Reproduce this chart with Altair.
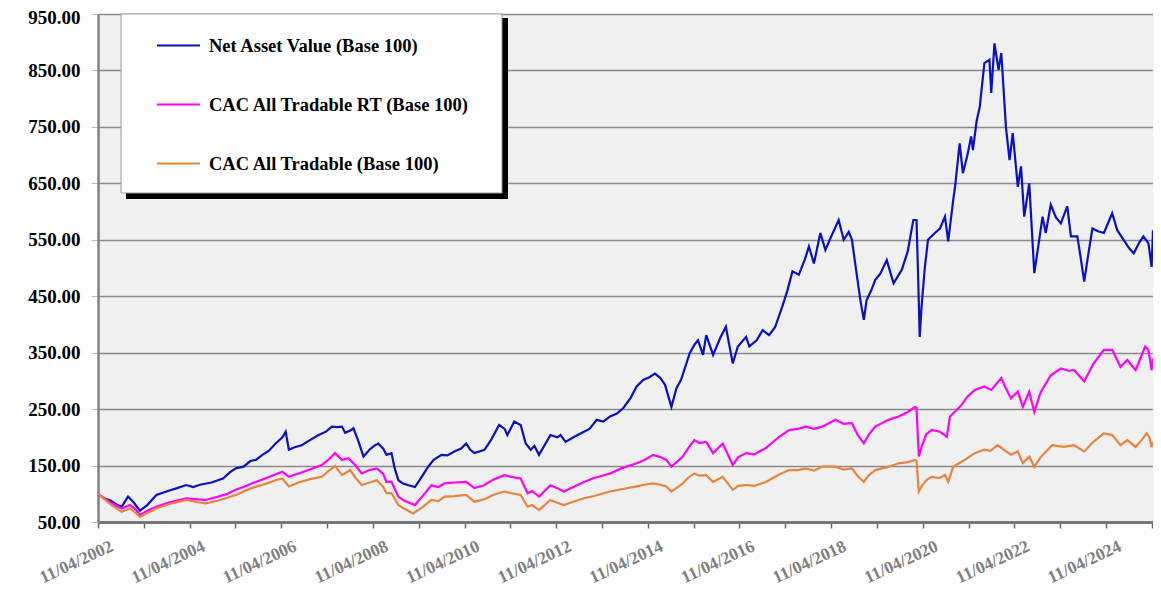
import altair as alt
import pandas as pd

series_names = ["Net Asset Value (Base 100)", "CAC All Tradable RT (Base 100)", "CAC All Tradable (Base 100)"]
series_colors = ["#0a10c8", "#ff00ff", "#e8843c"]

y_ticks = [50, 150, 250, 350, 450, 550, 650, 750, 850, 950]
tick_years = list(range(2002, 2026))

nav_t = [2002.275, 2002.40, 2002.55, 2002.70, 2002.79, 2002.93, 2003.05, 2003.19, 2003.35, 2003.55,
         2003.80, 2004.00, 2004.20, 2004.35, 2004.50, 2004.75, 2005.00, 2005.15, 2005.28, 2005.45,
         2005.60, 2005.72, 2005.86, 2006.00, 2006.15, 2006.30, 2006.37, 2006.44, 2006.55, 2006.72,
         2006.90, 2007.09, 2007.25, 2007.38, 2007.50, 2007.60, 2007.67, 2007.78, 2007.85, 2007.95,
         2008.07, 2008.20, 2008.30, 2008.39, 2008.50, 2008.57, 2008.68, 2008.75, 2008.83, 2008.93,
         2009.05, 2009.19, 2009.30, 2009.48, 2009.60, 2009.77, 2009.90, 2010.05, 2010.20, 2010.31,
         2010.40, 2010.49, 2010.71, 2010.85, 2011.03, 2011.15, 2011.21, 2011.36, 2011.50, 2011.61,
         2011.72, 2011.80, 2011.90, 2012.05, 2012.15, 2012.30, 2012.37, 2012.48, 2012.65, 2012.88,
         2013.00, 2013.16, 2013.30, 2013.45, 2013.60, 2013.74, 2013.90, 2014.03, 2014.18, 2014.30,
         2014.43, 2014.55, 2014.65, 2014.79, 2014.90, 2015.00, 2015.19, 2015.30, 2015.37, 2015.48,
         2015.55, 2015.70, 2015.85, 2015.98, 2016.05, 2016.13, 2016.24, 2016.42, 2016.49, 2016.65,
         2016.78, 2016.92, 2017.05, 2017.21, 2017.32, 2017.43, 2017.57, 2017.70, 2017.79, 2017.90,
         2018.04, 2018.15, 2018.30, 2018.44, 2018.55, 2018.66, 2018.73, 2018.84, 2018.92, 2018.99,
         2019.05, 2019.15, 2019.24, 2019.35, 2019.49, 2019.64, 2019.82, 2019.95, 2020.07, 2020.14,
         2020.17, 2020.21, 2020.25, 2020.32, 2020.39, 2020.54, 2020.65, 2020.76, 2020.83, 2020.94,
         2020.98, 2021.08, 2021.15, 2021.25, 2021.33, 2021.37, 2021.45, 2021.52, 2021.62, 2021.73,
         2021.77, 2021.84, 2021.93, 2021.99, 2022.09, 2022.17, 2022.24, 2022.35, 2022.42, 2022.49,
         2022.60, 2022.71, 2022.80, 2022.89, 2022.96, 2023.07, 2023.18, 2023.29, 2023.43, 2023.51,
         2023.65, 2023.72, 2023.80, 2023.90, 2023.98, 2024.10, 2024.23, 2024.41, 2024.52, 2024.66,
         2024.78, 2024.88, 2025.00, 2025.09, 2025.20, 2025.27, 2025.30]
nav_v = [100, 92, 88, 80, 77, 95, 85, 70, 80, 98,
         105, 110, 115.5, 112, 116, 120, 127, 138, 145, 148,
         158, 160, 169, 176, 189, 200, 210, 178, 182, 186,
         195, 204, 210, 219, 218, 219, 208, 212, 216, 195,
         166, 178, 185, 189, 180, 169, 172, 145, 124, 118,
         115, 112, 125, 148, 160, 169, 168, 175, 180, 189,
         178, 172, 178, 195, 222, 215, 204, 228, 222, 189,
         178, 185, 169, 190, 204, 200, 204, 192, 200, 210,
         215, 231, 228, 237, 242, 252, 270, 290, 302, 306,
         313, 305, 293, 254, 287, 302, 349, 365, 372, 346,
         381, 346, 375, 396, 365, 331, 361, 378, 361, 372,
         390, 381, 395, 432, 460, 494, 488, 515, 538, 508,
         562, 532, 560, 585, 550, 564, 550, 485, 440, 408,
         443, 460, 479, 490, 514, 473, 497, 530, 585, 585,
         500, 378, 432, 500, 550, 562, 570, 591, 547, 621,
         644, 721, 668, 700, 733, 709, 760, 786, 863, 869,
         810, 898, 851, 881, 750, 691, 739, 644, 680, 591,
         650, 491, 540, 591, 562, 612, 590, 579, 609, 556,
         556, 520, 476, 530, 570, 565, 562, 597, 567, 550,
         535, 526, 545, 556, 544, 502, 567]

rt_t = [2002.275, 2002.45, 2002.60, 2002.79, 2002.97, 2003.10, 2003.19, 2003.35, 2003.55, 2003.80,
        2004.00, 2004.20, 2004.45, 2004.63, 2004.90, 2005.10, 2005.28, 2005.45, 2005.64, 2005.85,
        2006.10, 2006.30, 2006.44, 2006.65, 2006.90, 2007.16, 2007.30, 2007.45, 2007.60, 2007.74,
        2007.90, 2008.03, 2008.20, 2008.36, 2008.50, 2008.57, 2008.68, 2008.83, 2008.95, 2009.19,
        2009.35, 2009.55, 2009.70, 2009.84, 2010.05, 2010.31, 2010.49, 2010.70, 2010.90, 2011.14,
        2011.30, 2011.50, 2011.65, 2011.75, 2011.90, 2012.15, 2012.30, 2012.44, 2012.65, 2012.88,
        2013.10, 2013.45, 2013.70, 2014.03, 2014.20, 2014.39, 2014.55, 2014.68, 2014.79, 2015.04,
        2015.15, 2015.29, 2015.40, 2015.55, 2015.70, 2015.91, 2016.13, 2016.25, 2016.42, 2016.60,
        2016.85, 2017.14, 2017.36, 2017.55, 2017.72, 2017.90, 2018.08, 2018.37, 2018.55, 2018.73,
        2018.85, 2018.99, 2019.10, 2019.24, 2019.53, 2019.75, 2019.95, 2020.11, 2020.14, 2020.19,
        2020.25, 2020.35, 2020.47, 2020.65, 2020.80, 2020.87, 2021.12, 2021.25, 2021.41, 2021.62,
        2021.77, 2021.99, 2022.10, 2022.20, 2022.35, 2022.46, 2022.60, 2022.71, 2022.85, 2023.07,
        2023.29, 2023.45, 2023.58, 2023.80, 2024.00, 2024.23, 2024.41, 2024.59, 2024.74, 2024.92,
        2025.05, 2025.13, 2025.20, 2025.27, 2025.30]
rt_v = [100, 90, 82, 74, 80, 72, 62, 70, 77, 84,
        88, 92, 90, 89, 95, 100, 107, 112, 118.5, 125,
        133, 139, 130, 136, 143, 151, 160, 172, 160, 163,
        150, 136, 142, 145, 135, 121, 121, 95, 88, 80,
        95, 115, 112, 118.5, 120, 121, 110, 115, 125, 133,
        130, 127, 101, 105, 95, 115, 110, 104, 112, 121,
        128, 136, 145, 154, 160, 169, 165, 160, 148, 166,
        180, 195, 190, 192, 172, 189, 151, 165, 172, 170,
        181, 201, 213, 215, 219, 215, 219, 231, 224, 225,
        205, 189, 205, 219, 231, 237, 245, 254, 252, 166,
        183, 205, 213, 210, 201, 237, 257, 272, 284, 290,
        284, 305, 285, 269, 281, 254, 281, 245, 280, 310,
        322, 318, 319, 299, 330, 355, 355, 325, 337, 319,
        345, 361, 355, 319, 340]

cac_t = [2002.275, 2002.45, 2002.60, 2002.79, 2002.97, 2003.10, 2003.19, 2003.35, 2003.55, 2003.80,
         2004.00, 2004.20, 2004.45, 2004.63, 2004.90, 2005.10, 2005.28, 2005.50, 2005.72, 2005.95,
         2006.15, 2006.30, 2006.44, 2006.65, 2006.90, 2007.16, 2007.30, 2007.45, 2007.60, 2007.78,
         2007.90, 2008.03, 2008.20, 2008.36, 2008.50, 2008.57, 2008.68, 2008.83, 2008.95, 2009.15,
         2009.35, 2009.55, 2009.70, 2009.84, 2010.05, 2010.31, 2010.49, 2010.70, 2010.90, 2011.14,
         2011.30, 2011.50, 2011.65, 2011.75, 2011.90, 2012.15, 2012.30, 2012.44, 2012.65, 2012.88,
         2013.10, 2013.45, 2013.70, 2014.03, 2014.20, 2014.39, 2014.55, 2014.68, 2014.79, 2015.04,
         2015.15, 2015.29, 2015.40, 2015.55, 2015.70, 2015.91, 2016.13, 2016.25, 2016.42, 2016.60,
         2016.85, 2017.14, 2017.36, 2017.55, 2017.72, 2017.90, 2018.08, 2018.37, 2018.55, 2018.73,
         2018.85, 2018.99, 2019.10, 2019.24, 2019.53, 2019.75, 2019.95, 2020.11, 2020.14, 2020.19,
         2020.25, 2020.35, 2020.47, 2020.65, 2020.76, 2020.83, 2020.94, 2021.15, 2021.41, 2021.62,
         2021.75, 2021.91, 2022.05, 2022.20, 2022.35, 2022.46, 2022.60, 2022.71, 2022.85, 2023.10,
         2023.35, 2023.58, 2023.80, 2024.00, 2024.23, 2024.41, 2024.59, 2024.74, 2024.92, 2025.05,
         2025.16, 2025.22, 2025.27, 2025.30]
cac_v = [100, 88, 78, 68, 74, 66, 59, 66, 74, 81,
         85, 89, 85, 83, 88, 93, 98, 106, 112.6, 118,
         124, 127, 113, 120, 126, 130, 140, 149, 133, 142,
         128, 115.5, 120, 124, 112, 101, 101, 80, 74, 65,
         76, 89, 87, 95, 96, 98, 86, 90, 98, 104,
         101, 98, 77, 80, 71, 89, 84, 80, 86, 92,
         96, 104, 108, 113, 116, 118.5, 116, 113, 104, 118.5,
         128, 136, 132, 133, 121, 130, 107, 114, 115.5, 114,
         121, 134, 142, 142, 145, 141, 148, 148, 143, 145,
         132, 121, 133, 142, 148, 154, 156, 160, 158, 104,
         113, 124, 130, 128, 133, 121, 148, 158, 172, 178,
         176, 186, 178, 169, 175, 154, 166, 148, 165, 186,
         183, 186, 175, 192, 207, 204, 186, 195, 183, 195,
         207, 200, 183, 192]


def to_ms(t):
    y = int(t)
    start = pd.Timestamp(year=y, month=1, day=1, tz="UTC")
    end = pd.Timestamp(year=y + 1, month=1, day=1, tz="UTC")
    ts = start + (t - y) * (end - start)
    return int(ts.value // 10**6)


frames = []
for name, ts, vs in zip(series_names, [nav_t, rt_t, cac_t], [nav_v, rt_v, cac_v]):
    frames.append(pd.DataFrame({"date": [to_ms(t) for t in ts], "value": vs, "series": name,
                                "order": list(range(len(ts)))}))
df = pd.concat(frames, ignore_index=True)

tick_ms = [int(pd.Timestamp(year=y, month=4, day=11, tz="UTC").value // 10**6) for y in tick_years]
x_domain = [tick_ms[0], to_ms(2025.30)]

serif = "Liberation Serif"

lines = alt.Chart(df).mark_line(strokeWidth=2.2, clip=True).encode(
    x=alt.X("date:T", title=None,
            scale=alt.Scale(type="utc", domain=x_domain, nice=False),
            axis=alt.Axis(values=tick_ms, grid=False,
                          labelExpr="utcyear(datum.value) % 2 == 0 ? utcFormat(datum.value, '%d/%m/%Y') : ''",
                          labelAngle=335, labelAlign="right", labelBaseline="top",
                          labelOffset=10, labelPadding=9, labelFlush=False, labelOverlap=False,
                          labelBound=False,
                          labelFont=serif, labelFontSize=17.5, labelFontWeight="bold", labelColor="#7f7f7f",
                          tickSize=6, tickColor="#666666", tickWidth=1.5,
                          domainColor="#777777", domainWidth=3)),
    y=alt.Y("value:Q", title=None,
            scale=alt.Scale(domain=[50, 950], nice=False, zero=False),
            axis=alt.Axis(values=y_ticks, format=".2f", grid=True, gridColor="#8a8a8a", gridWidth=1.5,
                          labelFont=serif, labelFontSize=19, labelFontWeight="bold", labelColor="black",
                          labelPadding=11, tickSize=7, tickColor="#bbbbbb", tickWidth=1,
                          labelOffset={"condition": {"test": "datum.value == 950", "value": 3}, "value": 0},
                          domainColor="#808080", domainWidth=2.5)),
    color=alt.Color("series:N", scale=alt.Scale(domain=series_names, range=series_colors),
                    legend=alt.Legend(title=None, orient="none", legendX=58, legendY=22, direction="vertical",
                                      symbolType="stroke", symbolSize=1849, symbolStrokeWidth=2,
                                      labelFont=serif, labelFontSize=18.5, labelFontWeight="bold",
                                      labelColor="black", labelOffset=8, labelLimit=500,
                                      rowPadding=40, clipHeight=19, padding=0)),
    order="order:Q",
)

one = pd.DataFrame({"k": [0]})
shadow = alt.Chart(one).mark_rect(color="black").encode(
    x=alt.value(28), x2=alt.value(410), y=alt.value(4), y2=alt.value(185))
box = alt.Chart(one).mark_rect(fill="white", stroke="#9a9a9a", strokeWidth=1).encode(
    x=alt.value(23), x2=alt.value(404), y=alt.value(0), y2=alt.value(179))

chart = alt.layer(lines, shadow, box).properties(
    width=1055, height=508,
    padding={"left": 90, "top": 6, "right": 0, "bottom": 82},
    autosize=alt.AutoSizeParams(type="none"),
    background="white",
).configure_view(fill="#f0f0f0", strokeWidth=0)

chart.save("out.html", embed_options={"renderer": "svg", "actions": False})
